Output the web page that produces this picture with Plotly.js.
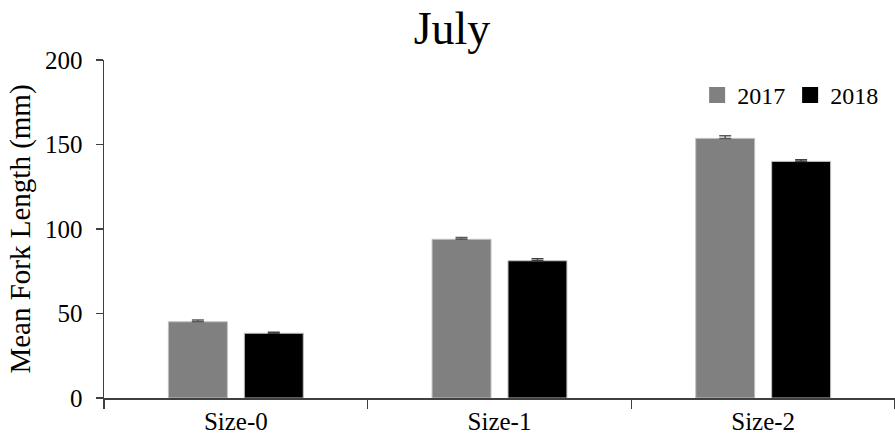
<!DOCTYPE html>
<html>
<head>
<meta charset="utf-8">
<script src="https://cdn.plot.ly/plotly-3.0.1.min.js"></script>
<style>html,body{margin:0;padding:0;background:#fff;}#chart{width:895px;height:444px;}</style>
</head>
<body>
<div id="chart"></div>
<script>
const categories = ["Size-0", "Size-1", "Size-2"];
const values2017 = [45.1, 93.9, 153.6];
const errors2017 = [1.1, 1.0, 1.6];
const values2018 = [38.3, 81.2, 140.0];
const errors2018 = [0.6, 1.2, 1.0];
const seriesNames = ["2017", "2018"];
const seriesColors = ["#808080", "#000000"];
const yTicks = [0, 50, 100, 150, 200];

const font = "'Liberation Serif', 'Times New Roman', serif";

const traces = [
  {
    type: "bar", name: seriesNames[0], x: categories, y: values2017, showlegend: false,
    marker: {color: seriesColors[0], line: {color: "#bfbfbf", width: 1}},
    error_y: {type: "data", array: errors2017, arrayminus: [0,0,0], symmetric: false, color: "#595959", thickness: 1.5, width: 6}
  },
  {
    type: "bar", name: seriesNames[1], x: categories, y: values2018, showlegend: false,
    marker: {color: seriesColors[1], line: {color: "#bfbfbf", width: 1}},
    error_y: {type: "data", array: errors2018, arrayminus: [0,0,0], symmetric: false, color: "#404040", thickness: 1.5, width: 6}
  },
  // legend-only entries with larger square swatches
  {type: "scatter", mode: "markers", name: seriesNames[0], x: [null], y: [null], showlegend: true,
   marker: {symbol: "square", size: 16, color: seriesColors[0]}},
  {type: "scatter", mode: "markers", name: seriesNames[1], x: [null], y: [null], showlegend: true,
   marker: {symbol: "square", size: 16, color: seriesColors[1]}}
];

const layout = {
  width: 895, height: 444,
  margin: {l: 104, r: 0, t: 60, b: 46},
  paper_bgcolor: "#fff", plot_bgcolor: "#fff",
  font: {family: font, color: "#000", size: 24},
  title: {text: "July", font: {family: font, size: 46, color: "#000"}, x: 0.505, xanchor: "center", xref: "container", y: 0.937, yanchor: "middle", yref: "container"},
  barmode: "group",
  bargap: 0.424,
  bargroupgap: 0.224,
  showlegend: true,
  legend: {orientation: "h", x: 0.985, xanchor: "right", y: 0.895, yanchor: "middle", font: {family: font, size: 24, color: "#000"}, itemwidth: 30, traceorder: "normal", bgcolor: "rgba(0,0,0,0)", tracegroupgap: 0, itemclick: false},
  xaxis: {
    type: "category", showline: true, linecolor: "#404040", linewidth: 1.5,
    ticks: "outside", tickson: "boundaries", ticklen: 9, tickcolor: "#404040", tickwidth: 1.5,
    showgrid: false, zeroline: false,
    tickfont: {family: font, size: 25, color: "#000"}
  },
  yaxis: {
    range: [0, 200], tickvals: yTicks, ticktext: yTicks.map(String),
    showline: true, linecolor: "#404040", linewidth: 1.5,
    ticks: "outside", ticklen: 7, tickcolor: "#404040", tickwidth: 1.5,
    ticklabelstandoff: 8,
    showgrid: false, zeroline: false,
    tickfont: {family: font, size: 25, color: "#000"},
    title: {text: "Mean Fork Length (mm)", font: {family: font, size: 29, color: "#000"}, standoff: 6}
  }
};

Plotly.newPlot("chart", traces, layout, {displayModeBar: false, staticPlot: true});
</script>
</body>
</html>
